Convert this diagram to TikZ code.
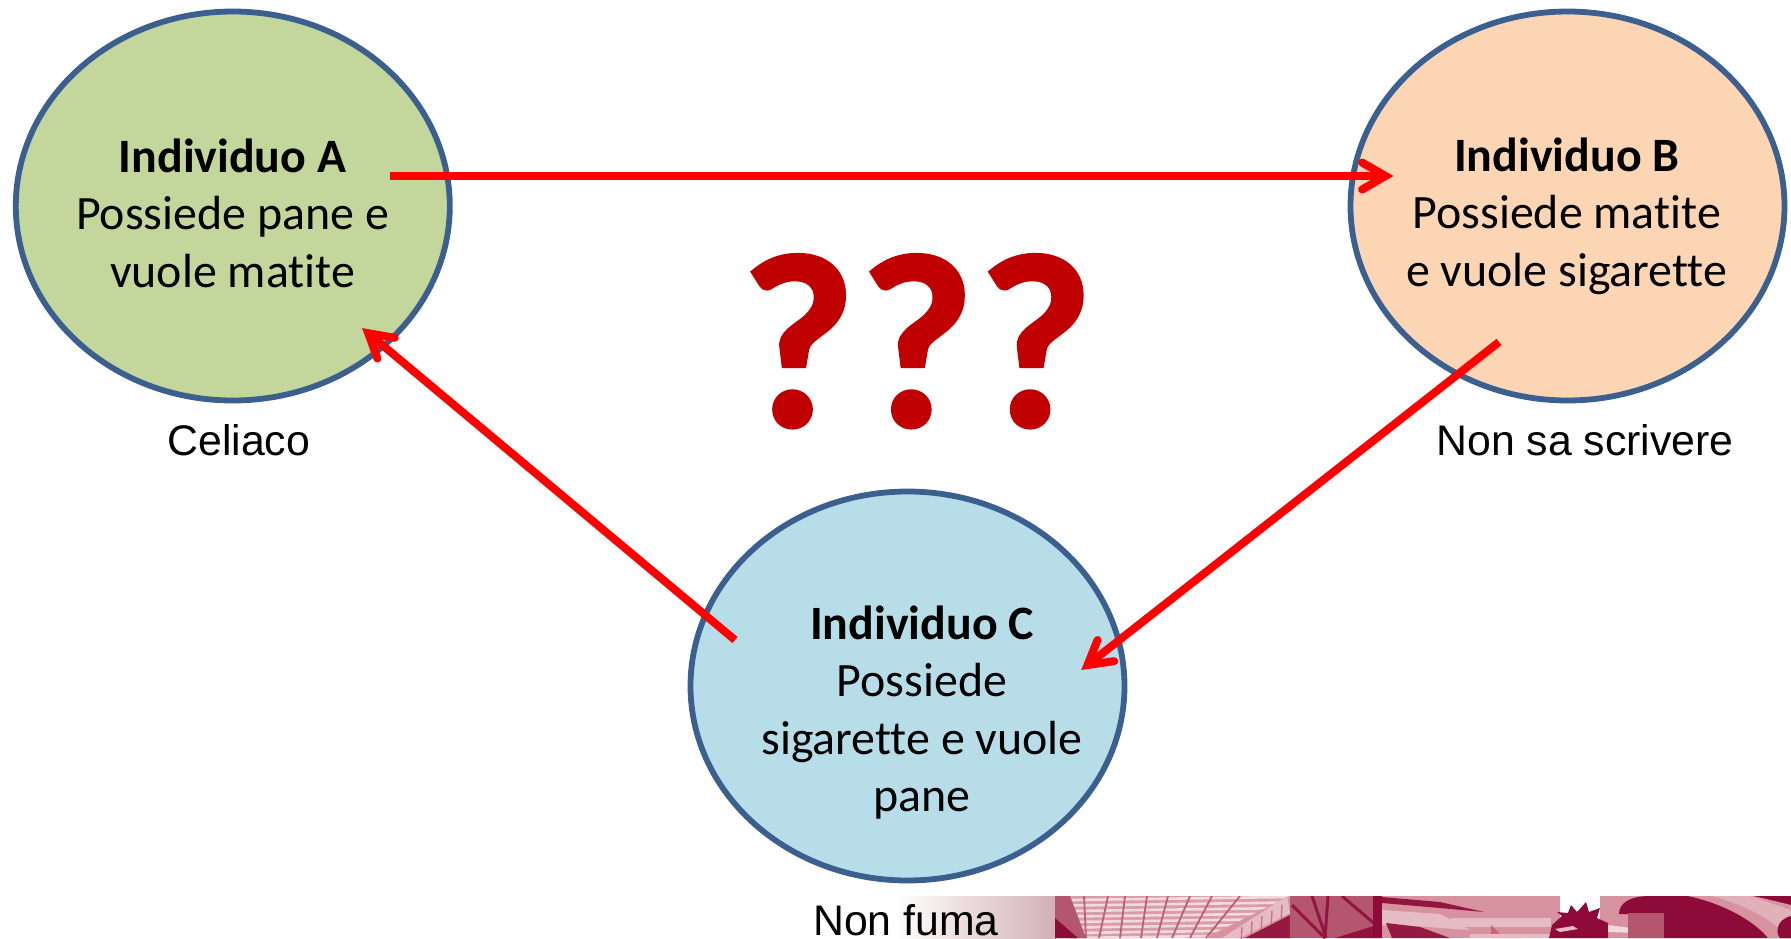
\documentclass[tikz,border=0pt]{standalone}
\usepackage{fontspec}
\setmainfont[Ligatures=NoCommon]{Carlito}
\newfontfamily\arialfont{Liberation Sans}
\newfontfamily\qfont[FakeBold=1.5,Ligatures=NoCommon]{Carlito Bold}
\usetikzlibrary{shapes.geometric,calc}
\definecolor{edgeblue}{HTML}{3B5F8E}
\definecolor{fillA}{HTML}{C3D69B}
\definecolor{fillB}{HTML}{FCD5B5}
\definecolor{fillC}{HTML}{B7DEE8}
\definecolor{darkq}{HTML}{C00000}
\definecolor{wine}{HTML}{8E0A38}
\definecolor{winemid}{HTML}{B5566F}
\definecolor{winesoft}{HTML}{D6939F}
\definecolor{winelight}{HTML}{E6BCC4}
\definecolor{winepale}{HTML}{F1DADD}
\tikzset{
  person/.style={ellipse,draw=edgeblue,line width=5.8pt,minimum width=434pt,minimum height=389pt,inner sep=0pt},
  bodytext/.style={align=center,inner sep=0pt,anchor=north,font=\fontsize{47.9}{57.5}\selectfont},
  sidetext/.style={anchor=base,inner sep=0pt,font=\arialfont\fontsize{42.8}{50}\selectfont},
  conn/.style={draw=red,line width=8pt},
  barbhead/.style={draw=red,line width=8pt,line cap=round,line join=miter,miter limit=10},
}
\begin{document}
\begin{tikzpicture}[x=1pt,y=-1pt]
\useasboundingbox (0,0) rectangle (1791,938);
% banner
\shade[left color=white,right color=winelight!80!gray] (896,896) rectangle (1056,938);
\begin{scope}
\clip (1055,896) rectangle (1791,938);
\fill[winesoft!80!winelight] (1055,896) rectangle (1300,938);
\foreach \yy in {899,904.5,910,915.5,921,926.5,932,937}{
  \draw[winepale,line width=2.6pt] (1070,\yy+1) -- (1290,\yy-2);
}
\foreach \a/\b in {1084/1086,1108/1099,1125/1120,1147/1141,1168/1157,1190/1172,1212/1190,1240/1206}{
  \draw[winemid!85!winesoft,line width=1.8pt] (\a,896) -- (\b,938);
}
\fill[winemid] (1055,896) -- (1070,896) -- (1086,938) -- (1055,938) -- cycle;
\fill[wine] (1055,918) -- (1078,938) -- (1055,938) -- cycle;
\fill[winesoft] (1205,938) -- (1290,896) -- (1290,938) -- cycle;
\fill[winelight] (1287,896) -- (1290,913) -- (1240,938) -- (1222,938) -- cycle;
\foreach \x in {1242,1252,1262,1272,1282}{\draw[winemid!70!winelight,line width=1.4pt] (\x,\x*-0.55+1610) -- (\x-1,\x*-0.55+1627);}
\fill[wine!80!winemid] (1245,938) -- (1292,914) -- (1292,938) -- cycle;
\fill[winemid] (1290,896) rectangle (1384,938);
\draw[wine!85!winemid,line width=3pt] (1292,905) -- (1325,938);
\draw[wine!85!winemid,line width=3pt] (1312,896) -- (1326,938);
\draw[wine!85!winemid,line width=3pt] (1328,896) -- (1325,938);
\draw[wine!85!winemid,line width=3pt] (1342,896) -- (1376,925);
\fill[wine!90!winemid] (1335,938) -- (1380,924) -- (1380,938) -- cycle;
\fill[wine] (1373,896) rectangle (1383,938);
\fill[winesoft] (1382,896) rectangle (1560,938);
\fill[wine!85!winemid] (1382,897) -- (1440,902) -- (1484,912) -- (1440,908) -- (1382,903) -- cycle;
\fill[winelight] (1382,910) -- (1440,914) -- (1470,930) -- (1400,925) -- (1382,925) -- cycle;
\fill[wine!80!winemid] (1386,923) -- (1420,927) -- (1450,938) -- (1392,938) -- cycle;
\fill[winelight] (1451,918) rectangle (1551,927);
\fill[winemid!70!winesoft] (1491,925) -- (1500,934) -- (1520,938) -- (1491,938) -- cycle;
\fill[winelight] (1470,934) rectangle (1550,938);
\fill[winesoft] (1600,896) rectangle (1650,938);
\fill[wine] (1549,938) -- (1552,925) -- (1562,916) -- (1557,912) -- (1568,913) -- (1571,905) -- (1577,912) -- (1586,902) -- (1589,912) -- (1600,908) -- (1597,918) -- (1608,923) -- (1608,938) -- cycle;
\fill[winelight] (1555,929) -- (1573,926) -- (1578,929) -- (1560,932) -- cycle;
\fill[winepale] (1608,925) -- (1638,929) -- (1638,933) -- (1608,932) -- cycle;
\fill[wine] (1628,938) -- (1628,914) -- (1619,914) .. controls (1619,903) and (1630,896) .. (1650,896) -- (1791,896) -- (1791,938) -- cycle;
\fill[winemid] (1628,913) rectangle (1664,938);
\fill[winesoft] (1688,896) .. controls (1730,905) and (1758,925) .. (1768,938) -- (1791,938) -- (1791,905) -- (1754,896) -- cycle;
\fill[winelight!70!winesoft] (1712,896) .. controls (1745,905) and (1772,920) .. (1780,930) -- (1791,925) -- (1791,910) -- (1750,896) -- cycle;
\fill[wine] (1791,916) .. controls (1775,920) and (1776,934) .. (1780,938) -- (1791,938) -- cycle;
\fill[wine] (1754,896) -- (1791,896) -- (1791,903) -- cycle;
\end{scope}
% ellipses
\node[person,fill=fillA] (A) at (232.8,206) {};
\node[person,fill=fillB] (B) at (1567.5,206) {};
\node[person,fill=fillC] (C) at (907.5,686) {};
% texts
\node[bodytext] (Atext) at (232.5,138.5) {\textbf{Individuo A}\\Possiede pane e\\vuole matite};
\node[bodytext] (Btext) at (1566.7,137.5) {\textbf{Individuo B}\\Possiede matite\\e vuole sigarette};
\node[bodytext] (Ctext) at (922,605.5) {\textbf{Individuo C}\\Possiede\\sigarette e vuole\\pane};
\node[sidetext] (Alabel) at (238.7,455) {Celiaco};
\node[sidetext] (Blabel) at (1585,455) {Non sa scrivere};
\node[sidetext] (Clabel) at (906,935) {Non fuma};
\node[anchor=base,inner sep=0pt,text=darkq,font=\qfont\fontsize{248}{248}\selectfont] (Q) at (917,426) {?\kern4pt?\kern4pt?};
% connectors
\coordinate (abstart) at (390,176);
\coordinate (abend) at (1385.5,176);
\coordinate (bcstart) at (1499,342);
\coordinate (bcend) at (1087.5,665);
\coordinate (castart) at (735,640);
\coordinate (caend) at (368.2,333.2);
\draw[conn] (abstart) -- (abend);
\draw[conn] (bcstart) -- (bcend);
\draw[conn] (castart) -- (caend);
\draw[barbhead] ($(abend)!27pt!30:(abstart)$) -- (abend) -- ($(abend)!27pt!-30:(abstart)$);
\draw[barbhead] ($(bcend)!27pt!30:(bcstart)$) -- (bcend) -- ($(bcend)!27pt!-30:(bcstart)$);
\draw[barbhead] ($(caend)!27pt!30:(castart)$) -- (caend) -- ($(caend)!27pt!-30:(castart)$);
\end{tikzpicture}
\end{document}
